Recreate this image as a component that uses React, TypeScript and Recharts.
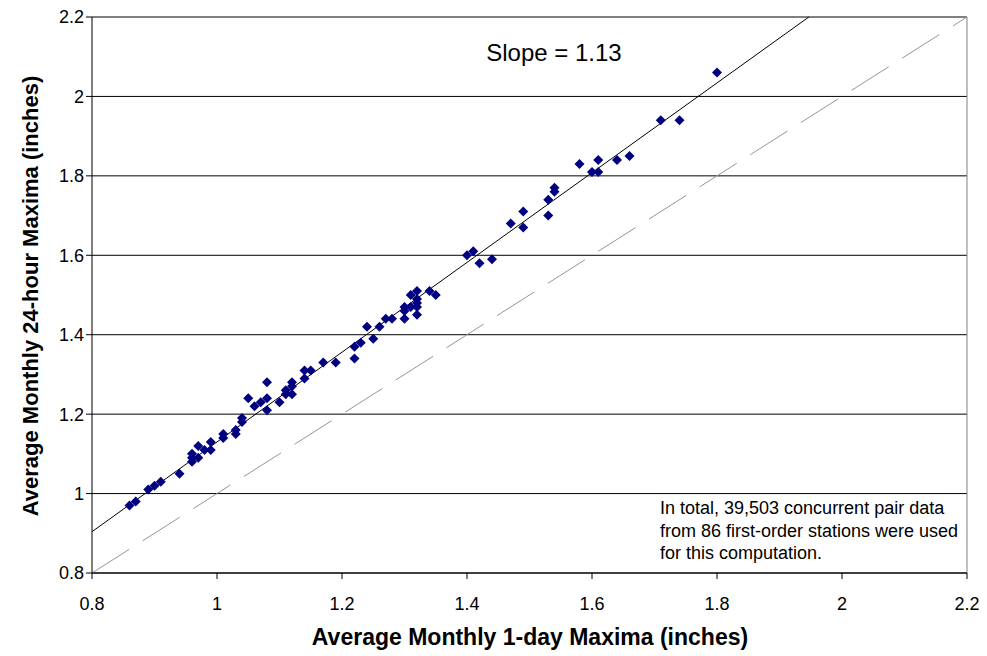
import {
  ScatterChart,
  Scatter,
  XAxis,
  YAxis,
  CartesianGrid,
  ReferenceLine,
} from "recharts";

const FONT = '"Liberation Sans", Arial, sans-serif';

// average monthly 1-day maxima (x) vs 24-hour maxima (y), inches
const oneDay = [
  0.86, 0.87, 0.89, 0.9, 0.91, 0.94, 0.96, 0.96, 0.96, 0.97, 0.97, 0.98, 0.99, 0.99,
  1.01, 1.01, 1.03, 1.03, 1.04, 1.04,
  1.05, 1.06, 1.07, 1.08, 1.08, 1.08, 1.1, 1.11, 1.11, 1.12, 1.12, 1.12, 1.14, 1.14,
  1.15, 1.17, 1.19,
  1.22, 1.22, 1.23, 1.24, 1.25, 1.26, 1.27, 1.28, 1.3, 1.3, 1.3, 1.31, 1.31, 1.32,
  1.32, 1.32, 1.32, 1.32, 1.34, 1.35,
  1.4, 1.41, 1.42, 1.44, 1.47, 1.49, 1.49, 1.53, 1.53, 1.54, 1.54,
  1.58, 1.6, 1.61, 1.61, 1.64, 1.66, 1.71, 1.74, 1.8,
];
const twentyFourHour = [
  0.97, 0.98, 1.01, 1.02, 1.03, 1.05, 1.1, 1.09, 1.08, 1.12, 1.09, 1.11, 1.13, 1.11,
  1.15, 1.14, 1.16, 1.15, 1.19, 1.18,
  1.24, 1.22, 1.23, 1.28, 1.24, 1.21, 1.23, 1.26, 1.25, 1.28, 1.27, 1.25, 1.31, 1.29,
  1.31, 1.33, 1.33,
  1.37, 1.34, 1.38, 1.42, 1.39, 1.42, 1.44, 1.44, 1.47, 1.46, 1.44, 1.5, 1.47, 1.51,
  1.49, 1.48, 1.47, 1.45, 1.51, 1.5,
  1.6, 1.61, 1.58, 1.59, 1.68, 1.71, 1.67, 1.74, 1.7, 1.77, 1.76,
  1.83, 1.81, 1.84, 1.81, 1.84, 1.85, 1.94, 1.94, 2.06,
];

const ticks = [0.8, 1, 1.2, 1.4, 1.6, 1.8, 2, 2.2];
const slope = 1.13;
const fitLine = [
  { x: 0.8, y: 0.8 * slope },
  { x: 2.2 / slope, y: 2.2 },
];
const oneToOne = [
  { x: 0.8, y: 0.8 },
  { x: 2.2, y: 2.2 },
];

const points = oneDay.map((x, i) => ({ x, y: twentyFourHour[i] }));

function Diamond(props: any) {
  const { cx, cy } = props;
  if (cx == null || cy == null) return null;
  const r = 5;
  return (
    <path
      d={`M${cx},${cy - r}L${cx + r},${cy}L${cx},${cy + r}L${cx - r},${cy}Z`}
      fill="#000080"
    />
  );
}

export default function App() {
  const tick = { fontSize: 18, fill: "#000", fontFamily: FONT };
  return (
    <div style={{ position: "absolute", left: 0, top: 0, width: 987, height: 656, background: "#fff" }}>
      <ScatterChart
        width={987}
        height={656}
        margin={{ top: 17, right: 20, left: 0, bottom: 0 }}
      >
        <CartesianGrid vertical={false} stroke="#000" />
        <XAxis
          type="number"
          dataKey="x"
          domain={[0.8, 2.2]}
          ticks={ticks}
          height={83}
          tick={tick}
          tickSize={6}
          tickMargin={18}
          stroke="#000"
          allowDataOverflow
        />
        <YAxis
          type="number"
          dataKey="y"
          domain={[0.8, 2.2]}
          ticks={ticks}
          width={92}
          tick={tick}
          tickSize={6}
          tickMargin={2}
          stroke="#000"
          allowDataOverflow
        />
        <ReferenceLine x={2.2} stroke="#808080" />
        <ReferenceLine
          segment={oneToOne}
          stroke="#969696"
          strokeDasharray="44 16"
        />
        <ReferenceLine segment={fitLine} stroke="#000" />
        <Scatter data={points} shape={<Diamond />} isAnimationActive={false} />
      </ScatterChart>
      <svg
        width={987}
        height={656}
        style={{ position: "absolute", left: 0, top: 0, pointerEvents: "none" }}
        fontFamily={FONT}
      >
        <text x={554} y={61} fontSize={24} textAnchor="middle" fill="#000">
          Slope = 1.13
        </text>
        <text x={660} y={514} fontSize={18} fill="#000">
          In total, 39,503 concurrent pair data
        </text>
        <text x={660} y={537} fontSize={18} fill="#000">
          from 86 first-order stations were used
        </text>
        <text x={660} y={559} fontSize={18} fill="#000">
          for this computation.
        </text>
        <text x={530} y={645} fontSize={23} fontWeight="bold" textAnchor="middle" fill="#000">
          Average Monthly 1-day Maxima (inches)
        </text>
        <text
          x={38}
          y={296}
          fontSize={22}
          fontWeight="bold"
          textAnchor="middle"
          fill="#000"
          transform="rotate(-90 38 296)"
        >
          Average Monthly 24-hour Maxima (inches)
        </text>
      </svg>
    </div>
  );
}
